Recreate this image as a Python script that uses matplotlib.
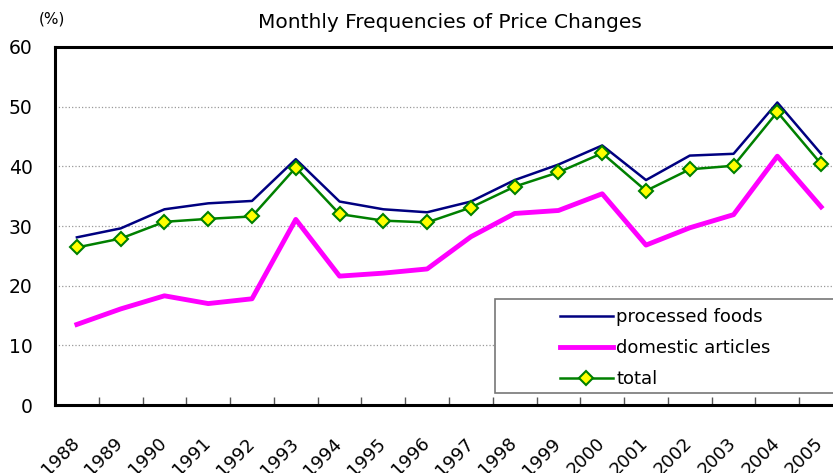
import matplotlib
matplotlib.use("Agg")
import matplotlib.pyplot as plt
from matplotlib.patches import Rectangle
from matplotlib.lines import Line2D
import matplotlib.transforms as mtransforms

years = ["1988", "1989", "1990", "1991", "1992", "1993", "1994", "1995", "1996",
         "1997", "1998", "1999", "2000", "2001", "2002", "2003", "2004", "2005"]
processed_foods = [28.1, 29.6, 32.8, 33.8, 34.2, 41.2, 34.1, 32.8, 32.3,
                   34.1, 37.7, 40.3, 43.5, 37.7, 41.8, 42.1, 50.7, 42.1]
domestic_articles = [13.5, 16.1, 18.3, 17.0, 17.8, 31.1, 21.6, 22.1, 22.8,
                     28.2, 32.1, 32.6, 35.4, 26.8, 29.7, 31.9, 41.7, 33.2]
total = [26.4, 27.9, 30.7, 31.2, 31.6, 39.8, 32.0, 30.9, 30.6,
         33.1, 36.6, 39.0, 42.2, 35.9, 39.5, 40.1, 49.1, 40.4]
yticks = [0, 10, 20, 30, 40, 50, 60]

W, H = 833, 473
fig = plt.figure(figsize=(W / 100, H / 100), dpi=100)
ax = fig.add_axes([55 / W, 1 - 405 / H, (843 - 55) / W, (405 - 47) / H])

x = list(range(len(years)))
ax.plot(x, processed_foods, color="#000080", lw=1.8, zorder=3)
ax.plot(x, domestic_articles, color="#FF00FF", lw=3.5, zorder=3)
ax.plot(x, total, color="#008000", lw=1.8, marker="D", markersize=7.5,
        markerfacecolor="#FFFF00", markeredgecolor="#008000", markeredgewidth=1.5, zorder=4)

ax.set_xlim(-0.5, len(years) - 0.5)
ax.set_ylim(0, 60)
ax.set_yticks(yticks)
ax.set_yticklabels([str(v) for v in yticks], fontsize=13.5)
ax.tick_params(axis="y", length=0, pad=16)
ax.yaxis.grid(True, color="#999999", linestyle=":", lw=0.9)
ax.set_axisbelow(True)

ax.set_xticks(x)
ax.set_xticklabels(years, rotation=45, ha="right", va="top", fontsize=13)
ax.tick_params(axis="x", which="major", length=0, pad=21)
ax.set_xticks([i + 0.5 for i in x[:-1]], minor=True)
ax.tick_params(axis="x", which="minor", direction="in", length=6, width=1, color="#555555")
offset = mtransforms.ScaledTranslation(6 / 100, 0, fig.dpi_scale_trans)
for lab in ax.get_xticklabels():
    lab.set_transform(lab.get_transform() + offset)

for s in ["left", "bottom", "top"]:
    ax.spines[s].set_linewidth(2.2)
    ax.spines[s].set_color("black")
ax.spines["right"].set_visible(False)

fig.text(450 / W, 1 - 22 / H, "Monthly Frequencies of Price Changes", ha="center", va="center",
         fontsize=14.5)
fig.text(52 / W, 1 - 19 / H, "(%)", ha="center", va="center", fontsize=11)

# legend box
rect = Rectangle((495 / W, 1 - 393 / H), (845 - 495) / W, (393 - 299) / H,
                 transform=fig.transFigure, facecolor="white", edgecolor="#777777",
                 lw=1.2, zorder=5)
fig.add_artist(rect)
handles = [Line2D([], [], color="#000080", lw=1.8),
           Line2D([], [], color="#FF00FF", lw=3.5),
           Line2D([], [], color="#008000", lw=1.8, marker="D", markersize=7,
                  markerfacecolor="#FFFF00", markeredgecolor="#008000", markeredgewidth=1.5)]
leg = fig.legend(handles, ["processed foods", "domestic articles", "total"],
                 loc="upper left", bbox_to_anchor=(553 / W, 1 - 301 / H),
                 frameon=False, fontsize=13, handlelength=2.9, handletextpad=0.2,
                 labelspacing=0.72, borderaxespad=0)
leg.set_zorder(6)

fig.savefig("out.png", dpi=100)
